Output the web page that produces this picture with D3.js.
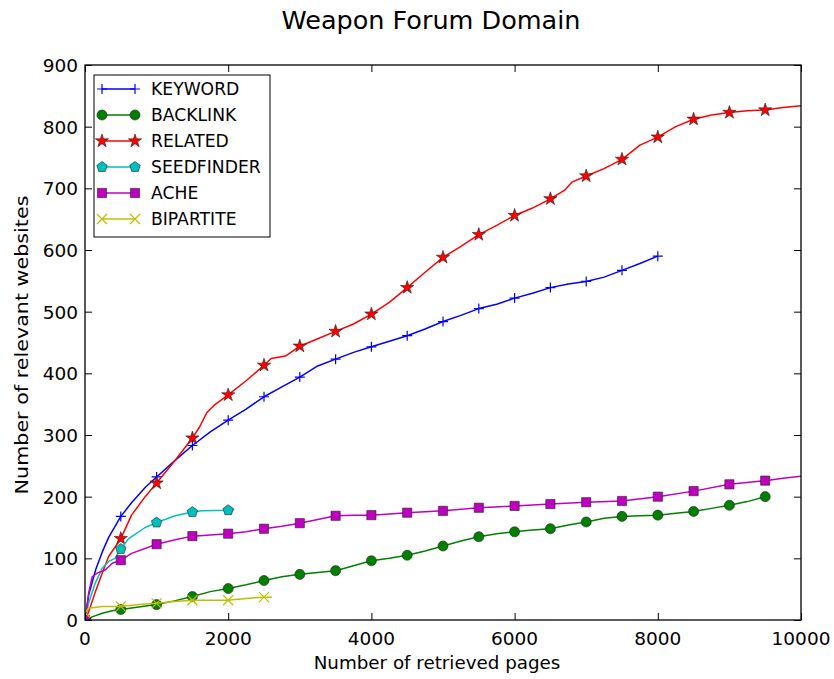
<!DOCTYPE html>
<html>
<head>
<meta charset="utf-8">
<script src="https://cdn.jsdelivr.net/npm/d3@7"></script>
<style>
  body { margin: 0; background: #fff; }
  text { font-family: "DejaVu Sans", sans-serif; fill: #000; }
</style>
</head>
<body>
<div id="chart"></div>
<script>
// series data (pages, relevant websites)
const keywordX = [0, 50, 150, 240, 330, 420, 500, 650, 850, 1000, 1250, 1500, 1750, 2000, 2250, 2500, 2750, 3000, 3250, 3500, 3750, 4000, 4250, 4500, 4750, 5000, 5250, 5500, 5750, 6000, 6250, 6500, 6750, 7000, 7250, 7500, 7750, 8000];
const keywordY = [0, 40, 82, 110, 134, 152, 168, 190, 216, 232, 258, 283, 305, 324, 342, 362, 378, 394, 412, 423, 434, 443, 452, 461, 472, 484, 494, 505, 512, 522, 530, 539, 545, 549, 556, 567, 578, 590];

const backlinkX = [0, 100, 240, 380, 500, 750, 1000, 1250, 1500, 1750, 2000, 2250, 2500, 2750, 3000, 3250, 3500, 3750, 4000, 4250, 4500, 4750, 5000, 5250, 5500, 5750, 6000, 6250, 6500, 6750, 7000, 7250, 7500, 7750, 8000, 8250, 8500, 8750, 9000, 9250, 9500];
const backlinkY = [0, 5, 11, 15, 17, 21, 25, 31, 38, 46, 51, 57, 64, 70, 74, 77, 80, 88, 96, 100, 105, 112, 120, 128, 135, 140, 143, 146, 148, 154, 159, 165, 168, 169, 170, 173, 176, 181, 186, 192, 200];

const relatedX = [0, 50, 140, 240, 330, 500, 650, 840, 1000, 1260, 1500, 1600, 1700, 1800, 2000, 2250, 2500, 2600, 2800, 3000, 3250, 3500, 3750, 4000, 4250, 4500, 4750, 5000, 5250, 5500, 5750, 6000, 6250, 6500, 6700, 6800, 7000, 7250, 7500, 7750, 8000, 8250, 8500, 8750, 9000, 9250, 9500, 9750, 10000];
const relatedY = [0, 13, 44, 76, 103, 132, 170, 200, 222, 259, 295, 313, 336, 348, 365, 388, 413, 424, 428, 444, 456, 468, 480, 496, 515, 539, 564, 588, 606, 625, 640, 656, 668, 683, 697, 710, 720, 732, 747, 770, 783, 800, 812, 819, 823, 826, 827, 831, 834];

const seedX = [0, 50, 140, 240, 330, 420, 500, 610, 840, 1000, 1260, 1500, 1630, 2000, 2085];
const seedY = [0, 27, 59, 84, 95, 100, 115, 132, 150, 158, 169, 175, 177, 178, 179];

const acheX = [0, 10, 50, 100, 170, 280, 380, 500, 650, 840, 1000, 1260, 1500, 1750, 2000, 2250, 2500, 2750, 3000, 3250, 3500, 3750, 4000, 4500, 5000, 5500, 6000, 6500, 7000, 7500, 8000, 8500, 9000, 9500, 9750, 10000];
const acheY = [0, 5, 43, 70, 76, 81, 92, 97, 108, 116, 123, 130, 136, 138, 140, 143, 148, 152, 157, 163, 169, 170, 170, 174, 177, 182, 185, 188, 191, 193, 200, 209, 220, 226, 230, 233];

const bipartiteX = [0, 50, 240, 500, 750, 1000, 1250, 1500, 1750, 2000, 2250, 2500, 2610];
const bipartiteY = [12, 19, 22, 22, 25, 27, 30, 32, 32, 32, 35, 37, 37];

const seriesNames = ["KEYWORD", "BACKLINK", "RELATED", "SEEDFINDER", "ACHE", "BIPARTITE"];
const xTicks = [0, 2000, 4000, 6000, 8000, 10000];
const yTicks = [0, 100, 200, 300, 400, 500, 600, 700, 800, 900];

const series = [
  { name: seriesNames[0], xs: keywordX, ys: keywordY, color: "#0000ff", marker: "plus" },
  { name: seriesNames[1], xs: backlinkX, ys: backlinkY, color: "#008000", marker: "circle" },
  { name: seriesNames[2], xs: relatedX, ys: relatedY, color: "#ff0000", marker: "star" },
  { name: seriesNames[3], xs: seedX, ys: seedY, color: "#00bfbf", marker: "pentagon" },
  { name: seriesNames[4], xs: acheX, ys: acheY, color: "#bf00bf", marker: "square" },
  { name: seriesNames[5], xs: bipartiteX, ys: bipartiteY, color: "#bfbf00", marker: "x" }
];

const W = 834, H = 679;
const margin = { top: 65, right: 33, bottom: 59, left: 85 },
  width = W - margin.left - margin.right,
  height = H - margin.top - margin.bottom;

const root = d3.select("#chart").append("svg")
  .attr("width", W)
  .attr("height", H);

// stretch = scale along the text direction (the original image is stretched vertically)
function label(parent, x, y, str, size, anchor, rotate, stretch) {
  let t = `translate(${x},${y})`;
  if (rotate) t += ` rotate(${rotate}) scale(${stretch || 1},1)`;
  const g = parent.append("g").attr("transform", t);
  g.append("text")
    .attr("text-anchor", anchor)
    .style("font-size", size + "px")
    .text(str);
  return g;
}

const svg = root.append("g")
  .attr("transform", `translate(${margin.left},${margin.top})`);

const x = d3.scaleLinear().domain([0, 10000]).range([0, width]);
const y = d3.scaleLinear().domain([0, 900]).range([height, 0]);

svg.append("clipPath").attr("id", "clip")
  .append("rect").attr("width", width).attr("height", height);

// marker shapes
const R = 5;
const pentagon = d3.range(5).map(i => {
  const a = -Math.PI / 2 + i * 2 * Math.PI / 5;
  return [R * 1.1 * Math.cos(a), R * 1.1 * Math.sin(a)];
});
function drawMarker(g, type, color) {
  if (type === "plus") {
    g.append("path").attr("d", `M${-R},0H${R}M0,${-R}V${R}`)
      .attr("stroke", color).attr("stroke-width", 1.2).attr("fill", "none");
  } else if (type === "x") {
    g.append("path").attr("d", `M${-R},${-R}L${R},${R}M${-R},${R}L${R},${-R}`)
      .attr("stroke", color).attr("stroke-width", 1.2).attr("fill", "none");
  } else if (type === "pentagon") {
    g.append("path").attr("d", "M" + pentagon.join("L") + "Z")
      .attr("fill", color).attr("stroke", "#222").attr("stroke-width", 0.6);
  } else {
    const sym = type === "circle" ? d3.symbolCircle : type === "square" ? d3.symbolSquare : d3.symbolStar;
    const size = type === "circle" ? 80 : type === "square" ? 85 : 55;
    g.append("path").attr("d", d3.symbol().type(sym).size(size)())
      .attr("fill", color).attr("stroke", "#222").attr("stroke-width", 0.6);
  }
}

const line = d3.line().x(d => x(d[0])).y(d => y(d[1]));
const plot = svg.append("g").attr("clip-path", "url(#clip)");

series.forEach(s => {
  const pts = s.xs.map((v, i) => [v, s.ys[i]]);
  plot.append("path")
    .datum(pts)
    .attr("fill", "none")
    .attr("stroke", s.color)
    .attr("stroke-width", 1.5)
    .attr("stroke-linejoin", "round")
    .attr("d", line);
  // a marker every 500 pages
  pts.filter(p => p[0] % 500 === 0 && p[0] < 10000).forEach(p => {
    const g = plot.append("g").attr("transform", `translate(${x(p[0])},${y(p[1])})`);
    drawMarker(g, s.marker, s.color);
  });
});

// axes: classic inward ticks on all four sides
const tickLen = 7;
svg.append("g").attr("transform", `translate(0,${height})`)
  .call(d3.axisBottom(x).tickValues(xTicks).tickSize(-tickLen).tickFormat(""))
  .call(g => g.select(".domain").remove());
svg.append("g")
  .call(d3.axisTop(x).tickValues(xTicks).tickSize(-tickLen).tickFormat(""))
  .call(g => g.select(".domain").remove());
svg.append("g")
  .call(d3.axisLeft(y).tickValues(yTicks).tickSize(-tickLen).tickFormat(""))
  .call(g => g.select(".domain").remove());
svg.append("g").attr("transform", `translate(${width},0)`)
  .call(d3.axisRight(y).tickValues(yTicks).tickSize(-tickLen).tickFormat(""))
  .call(g => g.select(".domain").remove());
svg.selectAll(".tick line").attr("stroke", "#000").attr("stroke-width", 1);

svg.append("rect")
  .attr("width", width).attr("height", height)
  .attr("fill", "none").attr("stroke", "#000").attr("stroke-width", 1.3);

xTicks.forEach(t => label(svg, x(t), height + 25, d3.format("d")(t), 18.5, "middle"));
yTicks.forEach(t => label(svg, -7, y(t) + 7, d3.format("d")(t), 18.5, "end"));

label(root, 431, 29, "Weapon Forum Domain", 25.5, "middle");
label(root, 437, 669, "Number of retrieved pages", 18.3, "middle");
label(root, 28, 345, "Number of relevant websites", 18.3, "middle", -90, 1.13);

// legend
const leg = svg.append("g").attr("transform", "translate(9,10)");
leg.append("rect")
  .attr("width", 176).attr("height", 162)
  .attr("fill", "#fff").attr("stroke", "#000").attr("stroke-width", 1);
series.forEach((s, i) => {
  const cy = 14 + i * 26;
  const row = leg.append("g").attr("transform", `translate(0,${cy})`);
  row.append("line").attr("x1", 8).attr("x2", 41).attr("y1", 0).attr("y2", 0)
    .attr("stroke", s.color).attr("stroke-width", 1.5);
  [8, 41].forEach(px => drawMarker(row.append("g").attr("transform", `translate(${px},0)`), s.marker, s.color));
  label(row, 57, 6, s.name, 17.2, "start");
});
</script>
</body>
</html>
